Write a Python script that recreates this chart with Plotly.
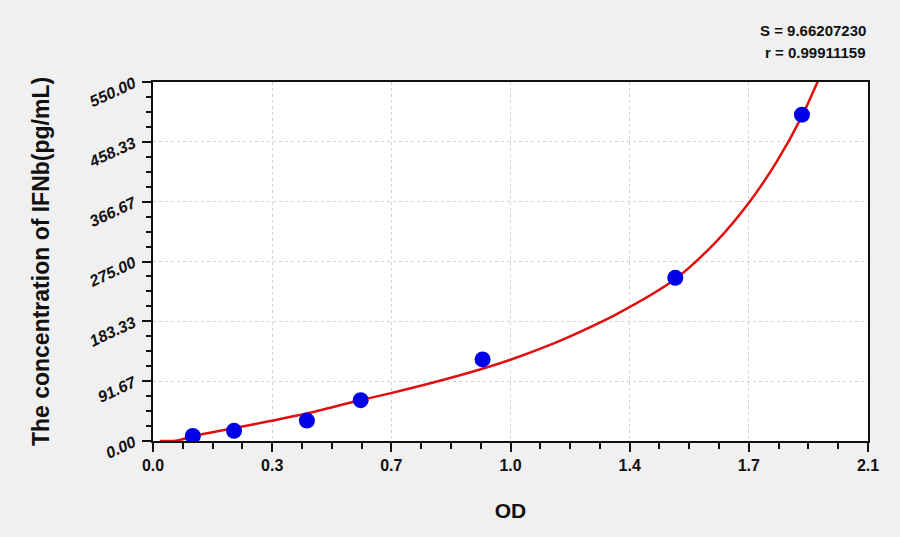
import plotly.graph_objects as go

# Standard points (OD vs concentration)
od_values = [0.117, 0.238, 0.452, 0.610, 0.968, 1.534, 1.906]
conc_values = [7.81, 15.63, 31.25, 62.5, 125.0, 250.0, 500.0]

# Fitted curve
curve_od = [0.020, 0.068, 0.118, 0.236, 0.344, 0.451, 0.608, 0.696, 0.823,
            0.970, 1.050, 1.170, 1.215, 1.362, 1.533, 1.655, 1.753, 1.832,
            1.905, 1.960]
curve_conc = [0.0, 0.5, 7.5, 19.5, 30.5, 42.0, 62.5, 73.0, 89.5,
              111.0, 124.5, 148.0, 158.0, 194.5, 247.8, 306.0, 367.0, 428.0,
              496.6, 560.0]

# Axis ticks
x_tickvals = [0.0, 0.35, 0.7, 1.05, 1.4, 1.75, 2.1]
x_ticktext = ["0.0", "0.3", "0.7", "1.0", "1.4", "1.7", "2.1"]
y_tickvals = [0.0, 91.67, 183.33, 275.0, 366.67, 458.33, 550.0]
y_ticktext = ["0.00", "91.67", "183.33", "275.00", "366.67", "458.33", "550.00"]

fit_s = "S = 9.66207230"
fit_r = "r = 0.99911159"

fig = go.Figure()

# fitted curve
fig.add_trace(go.Scatter(
    x=curve_od, y=curve_conc,
    mode="lines",
    line=dict(color="#e01010", width=2.5, shape="spline", smoothing=0.8),
    showlegend=False,
))

# standards
fig.add_trace(go.Scatter(
    x=od_values, y=conc_values,
    mode="markers",
    marker=dict(color="#0000e6", size=16),
    showlegend=False,
))

fig.add_annotation(x=1.0, y=1.0, xref="paper", yref="paper",
                   xanchor="right", yanchor="bottom", yshift=41,
                   text=fit_s, showarrow=False,
                   font=dict(family="Liberation Sans", size=15, color="#111"))
fig.add_annotation(x=1.0, y=1.0, xref="paper", yref="paper",
                   xanchor="right", yanchor="bottom", yshift=19,
                   text=fit_r, showarrow=False,
                   font=dict(family="Liberation Sans", size=15, color="#111"))

fig.update_layout(
    width=900, height=537,
    paper_bgcolor="#f0f0f0",
    plot_bgcolor="white",
    margin=dict(l=153, r=32, t=82, b=96),
    font=dict(family="Liberation Sans", color="#111"),
    xaxis=dict(
        range=[0, 2.1],
        tickmode="array", tickvals=x_tickvals, ticktext=x_ticktext,
        ticks="outside", ticklen=9, tickwidth=2, tickcolor="#111",
        tickfont=dict(family="Liberation Sans", size=16, weight="bold"),
        showline=True, linecolor="#111", linewidth=2, mirror=True,
        showgrid=True, gridcolor="#d2d2d2", griddash="dot", gridwidth=1,
        zeroline=False,
        minor=dict(tickmode="linear", tick0=0, dtick=0.0875, ticks="outside",
                   ticklen=6, tickwidth=2, tickcolor="#111", showgrid=False),
        title=dict(text="<b>OD</b>", font=dict(size=21), standoff=30),
    ),
    yaxis=dict(
        range=[0, 550],
        tickmode="array", tickvals=y_tickvals, ticktext=y_ticktext,
        ticks="outside", ticklen=9, tickwidth=2, tickcolor="#111",
        tickangle=-25, ticklabelstandoff=5,
        tickfont=dict(family="Liberation Sans", size=16, style="italic", weight="bold"),
        showline=True, linecolor="#111", linewidth=2, mirror=True,
        showgrid=True, gridcolor="#d2d2d2", griddash="dot", gridwidth=1,
        zeroline=False,
        minor=dict(tickmode="linear", tick0=0, dtick=22.9167, ticks="outside",
                   ticklen=5, tickwidth=2, tickcolor="#111", showgrid=False),
        title=dict(text="<b>The concentration of IFNb(pg/mL)</b>",
                   font=dict(size=23), standoff=30),
    ),
)

fig.update_annotations(font_weight="bold")

fig.write_html("out.html", config={"displayModeBar": False},
               post_script="document.body.style.margin='0';")
